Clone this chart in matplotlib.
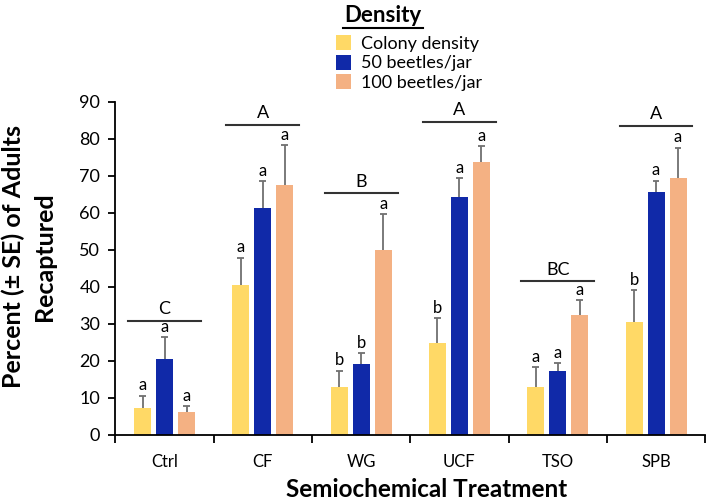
import numpy as np
import matplotlib.pyplot as plt
from matplotlib.lines import Line2D
from matplotlib.patches import Patch

plt.rcParams['font.family'] = ['Lato', 'DejaVu Sans']

treatments = ['Ctrl', 'CF', 'WG', 'UCF', 'TSO', 'SPB']
series = ['Colony density', '50 beetles/jar', '100 beetles/jar']
colony = [7.4, 40.6, 13.0, 24.9, 13.0, 30.6]
b50 = [20.5, 61.2, 19.3, 64.3, 17.3, 65.6]
b100 = [6.1, 67.6, 49.9, 73.7, 32.3, 69.3]
se_colony = [3.2, 7.3, 4.4, 6.7, 5.4, 8.6]
se_b50 = [6.0, 7.3, 2.9, 5.0, 2.1, 3.1]
se_b100 = [1.6, 10.8, 9.8, 4.4, 4.2, 8.3]
let_colony = ['a', 'a', 'b', 'b', 'a', 'b']
let_b50 = ['a', 'a', 'b', 'a', 'a', 'a']
let_b100 = ['a', 'a', 'a', 'a', 'a', 'a']
group_letters = ['C', 'A', 'B', 'A', 'BC', 'A']
group_line_y = [30.8, 83.7, 65.3, 84.6, 41.5, 83.5]

colors = ['#FFD966', '#1029A8', '#F4B183']
values = [colony, b50, b100]
errs = [se_colony, se_b50, se_b100]
letters = [let_colony, let_b50, let_b100]

fig = plt.figure(figsize=(7.08, 5.04), dpi=100)
ax = fig.add_axes([0.163, 0.137, 0.833, 0.661])

x = np.arange(len(treatments))
w = 0.173
step = 0.224
cap = 0.035
for i in range(3):
    xs = x + (i - 1) * step
    v = np.array(values[i])
    top = v + np.array(errs[i])
    ax.bar(xs, v, w, color=colors[i], zorder=2)
    ax.vlines(xs, v, top, color='#707070', lw=1.3, zorder=1)
    ax.hlines(top, xs - cap, xs + cap, color='#707070', lw=1.3, zorder=1)
    for xi, t, l in zip(xs, top, letters[i]):
        ax.text(xi, t + 0.6, l, ha='center', va='bottom', fontsize=12)

for xi, yl, gl in zip(x, group_line_y, group_letters):
    ax.plot([xi - 0.37, xi + 0.37], [yl, yl], color='#333333', lw=1.5, clip_on=False)
    ax.text(xi, yl + 1.0, gl, ha='center', va='bottom', fontsize=13)

ax.set_xlim(-0.5, 5.5)
ax.set_ylim(0, 90)
ax.set_yticks(np.arange(0, 91, 10))
ax.set_xticks(np.arange(-0.5, 6, 1))
ax.set_xticklabels([])
ax.set_xticks(x, minor=True)
ax.set_xticklabels(treatments, minor=True, fontsize=12)
ax.tick_params(axis='x', which='minor', length=0, pad=14)
ax.tick_params(axis='x', which='major', length=6, width=1.3, direction='out')
ax.tick_params(axis='y', length=5, width=1.3, direction='out', labelsize=13, pad=6)
for s in ['top', 'right']:
    ax.spines[s].set_visible(False)
for s in ['left', 'bottom']:
    ax.spines[s].set_linewidth(1.3)

ax.set_xlabel('Semiochemical Treatment', fontsize=17.5, fontweight='bold',
              va='center')
ax.xaxis.set_label_coords(0.527, -0.165, transform=ax.transAxes)
ax.set_ylabel('Percent (\u00b1 SE) of Adults\nRecaptured', fontsize=18,
              fontweight='bold', linespacing=1.45, va='center', ha='center')
ax.yaxis.set_label_coords(-0.147, 0.535)

fig.text(0.541, 0.99, 'Density', ha='center', va='top', fontsize=16, fontweight='bold')
fig.add_artist(Line2D([0.484, 0.598], [0.945, 0.945], color='black', lw=1.5))
handles = [Patch(facecolor=c, edgecolor='none') for c in colors]
fig.legend(handles, series, loc='upper left', bbox_to_anchor=(0.457, 0.955),
           frameon=False, fontsize=13, handlelength=0.8, handleheight=0.9,
           handletextpad=0.6, labelspacing=0.15, borderpad=0.2)

fig.savefig('out.png', dpi=100)
